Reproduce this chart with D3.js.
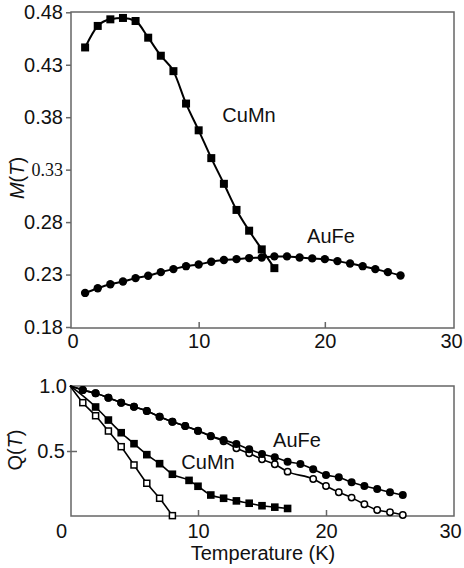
<!DOCTYPE html>
<html>
<head>
<meta charset="utf-8">
<script src="https://cdn.jsdelivr.net/npm/d3@7"></script>
<style>
  body { margin: 0; background: #fff; }
  svg text { font-family: "Liberation Sans", Arial, sans-serif; fill: #111; }
</style>
</head>
<body>
<script>
// ---- data ----
// top panel: M(T)
const cumnT = [1, 2, 3, 4, 5, 6, 7, 8, 9, 10, 11, 12, 13, 14, 15, 16];
const cumnM = [0.4465, 0.467, 0.4733, 0.4746, 0.4717, 0.4558, 0.4386, 0.4239,
               0.393, 0.3675, 0.341, 0.3165, 0.2916, 0.2718, 0.254, 0.2361];
const aufeT = [1, 2, 3, 4, 5, 6, 7, 8, 9, 10, 11, 12, 13,
               14, 15, 16, 17, 18, 19, 20, 21, 22, 23, 24, 25, 26];
const aufeM = [0.2125, 0.217, 0.2208, 0.2234, 0.2266, 0.2288, 0.2323, 0.2352, 0.238,
               0.2396, 0.2422, 0.2438, 0.2447, 0.2457, 0.2463, 0.2473, 0.2473, 0.2463,
               0.2454, 0.2447, 0.2428, 0.2406, 0.238, 0.2352, 0.2323, 0.2291];
const mTicks = [0.18, 0.23, 0.28, 0.33, 0.38, 0.43, 0.48];
const tTicks = [0, 10, 20, 30];

// bottom panel: Q(T), every curve starts at (0, 1)
const qStart = [0, 1];
const aufeQT = aufeT;
const aufeQ = [0.967, 0.942, 0.908, 0.870, 0.839, 0.806, 0.763, 0.724, 0.691, 0.656,
               0.615, 0.584, 0.554, 0.513, 0.477, 0.452, 0.418, 0.400, 0.360, 0.316,
               0.299, 0.260, 0.232, 0.209, 0.184, 0.163];
const aufeOpenT = [1, 2, 3, 4, 5, 6, 7, 8, 9, 10, 11, 12, 13,
                   14, 15, 16, 17, 19, 20, 21, 22, 23, 24, 25, 26];
const aufeOpenQ = [0.967, 0.942, 0.908, 0.870, 0.839, 0.806, 0.763, 0.724, 0.691, 0.654,
                   0.612, 0.575, 0.521, 0.482, 0.436, 0.398, 0.342, 0.286, 0.232,
                   0.184, 0.143, 0.092, 0.048, 0.031, 0.010];
const cumnQT = [2, 3, 4, 5, 6, 7, 8, 9.3, 10, 11, 12, 13, 14, 15, 16, 17];
const cumnQ = [0.837, 0.737, 0.640, 0.556, 0.472, 0.403, 0.322, 0.275,
               0.230, 0.163, 0.138, 0.118, 0.100, 0.081, 0.070, 0.060];
const cumnOpenT = [1, 2, 3, 4, 5, 6, 7, 8];
const cumnOpenQ = [0.870, 0.770, 0.653, 0.533, 0.393, 0.253, 0.138, 0.005];
const qTicks = [0.5, 1.0];

let width = 464, height = 568;

let svg = d3.select('body')
            .append('svg')
            .attr('width', width)
            .attr('height', height);

const frameColor = '#666';
const fontSize = 20;

// ================= top panel =================
let topBox = {left: 71, right: 454, top: 12, bottom: 328};

let xTop = d3.scaleLinear().domain([0, 30]).range([72.5, 451]);
let yTop = d3.scaleLinear().domain([0.18, 0.48]).range([327, 12.3]);

svg.append('rect')
   .attr('x', topBox.left).attr('y', topBox.top)
   .attr('width', topBox.right - topBox.left).attr('height', topBox.bottom - topBox.top)
   .attr('fill', 'none').attr('stroke', frameColor).attr('stroke-width', 1.5);

// y ticks (outward)
let yAxisTop = svg.append('g')
  .attr('transform', `translate(${topBox.left}, 0)`)
  .call(d3.axisLeft(yTop).tickValues(mTicks).tickSize(5).tickPadding(3)
          .tickFormat(d3.format('.2f')));
yAxisTop.select('.domain').remove();
yAxisTop.selectAll('line').attr('stroke', frameColor).attr('stroke-width', 1.5);
yAxisTop.selectAll('text')
  .style('font-family', d => Math.abs(d - 0.33) < 1e-6 ? '"Liberation Serif", "Times New Roman", serif' : null)
  .attr('font-size', d => Math.abs(d - 0.33) < 1e-6 ? 18 : fontSize)
  .attr('fill', '#111');

// x ticks (inward)
let xAxisTop = svg.append('g')
  .attr('transform', `translate(0, ${topBox.bottom})`)
  .call(d3.axisBottom(xTop).tickValues(tTicks).tickSize(0).tickPadding(6));
xAxisTop.select('.domain').remove();
xAxisTop.selectAll('text').attr('font-size', fontSize).attr('fill', '#111');
xAxisTop.selectAll('.tick')
  .filter(d => d > 0 && d < 30)
  .append('line').attr('y1', 0).attr('y2', -6)
  .attr('stroke', frameColor).attr('stroke-width', 1.5);

let lineTop = d3.line()
  .x(d => xTop(d[0]))
  .y(d => yTop(d[1]))
  .curve(d3.curveMonotoneX);

const cumnPts = cumnT.map((t, i) => [t, cumnM[i]]);
const aufePts = aufeT.map((t, i) => [t, aufeM[i]]);

svg.append('path').attr('d', lineTop(aufePts))
   .attr('fill', 'none').attr('stroke', '#000').attr('stroke-width', 2);
svg.append('path').attr('d', lineTop(cumnPts))
   .attr('fill', 'none').attr('stroke', '#000').attr('stroke-width', 2);

svg.selectAll('.top-circle')
  .data(aufePts).enter().append('circle')
  .attr('class', 'top-circle')
  .attr('cx', d => xTop(d[0])).attr('cy', d => yTop(d[1]))
  .attr('r', 4.2).attr('fill', '#000');

svg.selectAll('.top-square')
  .data(cumnPts).enter().append('rect')
  .attr('class', 'top-square')
  .attr('x', d => xTop(d[0]) - 4).attr('y', d => yTop(d[1]) - 4)
  .attr('width', 8).attr('height', 8).attr('fill', '#000');

svg.append('text').attr('x', 249).attr('y', 122)
   .attr('text-anchor', 'middle').attr('font-size', fontSize).text('CuMn');
svg.append('text').attr('x', 331).attr('y', 243)
   .attr('text-anchor', 'middle').attr('font-size', fontSize).text('AuFe');

// y label M(T)
let mLabel = svg.append('text')
  .attr('transform', 'translate(24, 178) rotate(-90)')
  .attr('text-anchor', 'middle')
  .attr('font-size', fontSize);
mLabel.append('tspan').attr('font-style', 'italic').text('M');
mLabel.append('tspan').text('(');
mLabel.append('tspan').attr('font-style', 'italic').text('T');
mLabel.append('tspan').text(')');

// ================= bottom panel =================
let botBox = {left: 71, right: 454, top: 386, bottom: 516};

let xBot = d3.scaleLinear().domain([0, 30]).range([70, 454]);
let yBot = d3.scaleLinear().domain([0, 1]).range([516.3, 385.7]);

svg.append('rect')
   .attr('x', botBox.left).attr('y', botBox.top)
   .attr('width', botBox.right - botBox.left).attr('height', botBox.bottom - botBox.top)
   .attr('fill', 'none').attr('stroke', frameColor).attr('stroke-width', 1.5);

let yAxisBot = svg.append('g')
  .attr('transform', `translate(${botBox.left}, 0)`)
  .call(d3.axisLeft(yBot).tickValues(qTicks).tickSize(0).tickPadding(4)
          .tickFormat(d3.format('.1f')));
yAxisBot.select('.domain').remove();
yAxisBot.selectAll('text').attr('font-size', fontSize).attr('fill', '#111');
yAxisBot.selectAll('.tick')
  .filter(d => d < 1)
  .append('line').attr('x1', -4).attr('x2', 6)
  .attr('stroke', frameColor).attr('stroke-width', 1.5);
yAxisBot.selectAll('.tick')
  .filter(d => d < 1)
  .select('text').attr('x', -6);

let xAxisBot = svg.append('g')
  .attr('transform', `translate(0, ${botBox.bottom})`)
  .call(d3.axisBottom(xBot).tickValues(tTicks).tickSize(0).tickPadding(8));
xAxisBot.select('.domain').remove();
xAxisBot.selectAll('text').attr('font-size', fontSize).attr('fill', '#111')
  .attr('dx', d => d === 0 ? -9 : (d === 30 ? -4 : 0));
xAxisBot.selectAll('.tick')
  .filter(d => d > 0 && d < 30)
  .append('line').attr('y1', 0).attr('y2', -6)
  .attr('stroke', frameColor).attr('stroke-width', 1.5);

svg.append('text').attr('x', 263).attr('y', 560)
   .attr('text-anchor', 'middle').attr('font-size', fontSize).text('Temperature (K)');

let qLabel = svg.append('text')
  .attr('transform', 'translate(22, 450) rotate(-90)')
  .attr('text-anchor', 'middle')
  .attr('font-size', fontSize);
qLabel.append('tspan').text('Q(');
qLabel.append('tspan').attr('font-style', 'italic').text('T');
qLabel.append('tspan').text(')');

let lineBot = d3.line()
  .x(d => xBot(d[0]))
  .y(d => yBot(d[1]))
  .curve(d3.curveMonotoneX);

const withStart = (ts, qs) => [qStart].concat(ts.map((t, i) => [t, qs[i]]));

const aufeFillPts = aufeQT.map((t, i) => [t, aufeQ[i]]);
const aufeOpenPts = aufeOpenT.map((t, i) => [t, aufeOpenQ[i]]);
const cumnFillPts = cumnQT.map((t, i) => [t, cumnQ[i]]);
const cumnOpenPts = cumnOpenT.map((t, i) => [t, cumnOpenQ[i]]);

[withStart(aufeOpenT, aufeOpenQ), withStart(aufeQT, aufeQ),
 withStart(cumnOpenT, cumnOpenQ), withStart(cumnQT, cumnQ)].forEach(pts => {
  svg.append('path').attr('d', lineBot(pts))
     .attr('fill', 'none').attr('stroke', '#000').attr('stroke-width', 1.6);
});

// open circles (under the filled ones)
svg.selectAll('.q-open-circle')
  .data(aufeOpenPts).enter().append('circle')
  .attr('class', 'q-open-circle')
  .attr('cx', d => xBot(d[0])).attr('cy', d => yBot(d[1]))
  .attr('r', 3.2).attr('fill', '#fff').attr('stroke', '#000').attr('stroke-width', 1.5);

svg.selectAll('.q-circle')
  .data(aufeFillPts).enter().append('circle')
  .attr('class', 'q-circle')
  .attr('cx', d => xBot(d[0])).attr('cy', d => yBot(d[1]))
  .attr('r', 4).attr('fill', '#000');

svg.selectAll('.q-square')
  .data(cumnFillPts).enter().append('rect')
  .attr('class', 'q-square')
  .attr('x', d => xBot(d[0]) - 3.8).attr('y', d => yBot(d[1]) - 3.8)
  .attr('width', 7.6).attr('height', 7.6).attr('fill', '#000');

svg.selectAll('.q-open-square')
  .data(cumnOpenPts).enter().append('rect')
  .attr('class', 'q-open-square')
  .attr('x', d => xBot(d[0]) - 3).attr('y', d => yBot(d[1]) - 3)
  .attr('width', 6).attr('height', 6)
  .attr('fill', '#fff').attr('stroke', '#000').attr('stroke-width', 1.5);

svg.append('text').attr('x', 297).attr('y', 447)
   .attr('text-anchor', 'middle').attr('font-size', fontSize).text('AuFe');
svg.append('text').attr('x', 208).attr('y', 469)
   .attr('text-anchor', 'middle').attr('font-size', fontSize).text('CuMn');
</script>
</body>
</html>
